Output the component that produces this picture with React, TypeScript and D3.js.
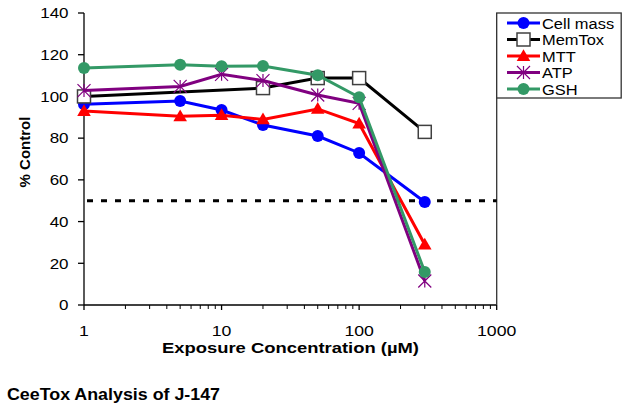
import React from "react";
import * as d3 from "d3";

const seriesNames = ["Cell mass", "MemTox", "MTT", "ATP", "GSH"];
const colors = ["#0000ff", "#000000", "#ff0000", "#800080", "#339966"];
const markers = ["circle", "square", "triangle", "star", "circle"];

const cellMassX = [1, 5, 10, 20, 50, 100, 300];
const cellMassY = [96.3, 97.8, 93.5, 86.3, 81, 72.9, 49.4];
const memToxX = [1, 20, 50, 100, 300];
const memToxY = [100, 104, 108.8, 108.8, 83];
const mttX = [1, 5, 10, 20, 50, 100, 300];
const mttY = [93, 90.5, 91, 89, 94, 87, 29];
const atpX = [1, 5, 10, 20, 50, 100, 300];
const atpY = [102.8, 104.8, 110.6, 107.6, 100.7, 96.7, 11.5];
const gshX = [1, 5, 10, 20, 50, 100, 300];
const gshY = [113.6, 115.2, 114.5, 114.6, 110.2, 99.6, 15.8];

const yTicks = [0, 20, 40, 60, 80, 100, 120, 140];
const xMajor = [1, 10, 100, 1000];
const threshold = 50;

const xs = [cellMassX, memToxX, mttX, atpX, gshX];
const ysv = [cellMassY, memToxY, mttY, atpY, gshY];

function Marker({ type, color, x, y }: { type: string; color: string; x: number; y: number }) {
  if (type === "circle") return <circle cx={x} cy={y} r={6} fill={color} />;
  if (type === "square")
    return <rect x={x - 6.5} y={y - 6.5} width={13} height={13} fill="#fff" stroke="#404040" strokeWidth={1.5} />;
  if (type === "triangle")
    return <path d={d3.symbol().type(d3.symbolTriangle).size(80)() || ""} transform={`translate(${x},${y + 1})`} fill={color} />;
  const p = d3.path();
  const r = 6.5;
  p.moveTo(x - r, y - r); p.lineTo(x + r, y + r);
  p.moveTo(x - r, y + r); p.lineTo(x + r, y - r);
  p.moveTo(x, y - r); p.lineTo(x, y + r);
  return <path d={p.toString()} stroke={color} strokeWidth={1.2} fill="none" />;
}

export default function App() {
  const x = d3.scaleLog().domain([1, 1000]).range([84, 496.7]);
  const y = d3.scaleLinear().domain([0, 140]).range([305, 13]);
  const line = d3.line<[number, number]>().x((d) => x(d[0])).y((d) => y(d[1]));
  const minor: number[] = [];
  for (const dec of [1, 10, 100]) for (let k = 2; k <= 9; k++) minor.push(dec * k);
  const font = "Liberation Sans, Arial, sans-serif";
  const sx = 1.17;

  return (
    <svg width={629} height={411} style={{ position: "absolute", left: 0, top: 0, background: "#fff" }} fontFamily={font}>
      {/* axes */}
      <line x1={84} x2={84} y1={y(140)} y2={y(0)} stroke="#000" strokeWidth={1.3} />
      <line x1={84} x2={496.7} y1={y(0)} y2={y(0)} stroke="#000" strokeWidth={1.3} />
      <line x1={496.7} x2={496.7} y1={y(140)} y2={y(0)} stroke="#333" strokeWidth={1.3} />
      {yTicks.map((t) => (
        <g key={t}>
          <line x1={78} x2={84} y1={y(t)} y2={y(t)} stroke="#000" strokeWidth={1.3} />
          <text transform={`translate(68.5,${y(t)}) scale(${sx},1)`} dy="0.36em" textAnchor="end" fontSize={14.5}>{t}</text>
        </g>
      ))}
      {xMajor.map((t) => (
        <g key={t}>
          <line x1={x(t)} x2={x(t)} y1={y(0)} y2={y(0) + 5} stroke="#000" strokeWidth={1.3} />
          <text transform={`translate(${x(t)},336) scale(${sx + 0.05},1)`} textAnchor="middle" fontSize={14.5}>{t}</text>
        </g>
      ))}
      {minor.map((t) => (
        <line key={t} x1={x(t)} x2={x(t)} y1={y(0)} y2={y(0) + 4} stroke="#000" strokeWidth={1} />
      ))}
      <text x={162} y={353} fontSize={15} fontWeight="bold" textLength={257} lengthAdjust="spacingAndGlyphs">Exposure Concentration (µM)</text>
      <text transform={`translate(30,152) rotate(-90)`} textAnchor="middle" fontSize={15} fontWeight="bold">% Control</text>
      <text x={7} y={400} fontSize={16} fontWeight="bold" textLength={213} lengthAdjust="spacingAndGlyphs">CeeTox Analysis of J-147</text>

      {/* threshold */}
      <line x1={84} x2={496.7} y1={y(threshold)} y2={y(threshold)} stroke="#000" strokeWidth={3} strokeDasharray="6,8" strokeDashoffset={-3} />

      {/* series */}
      {seriesNames.map((name, i) => {
        const pts = xs[i].map((xv, j) => [xv, ysv[i][j]] as [number, number]);
        return (
          <g key={name}>
            <path d={line(pts) || ""} fill="none" stroke={colors[i]} strokeWidth={3} />
            {pts.map((p, j) => (
              <Marker key={j} type={markers[i]} color={colors[i]} x={x(p[0])} y={y(p[1])} />
            ))}
          </g>
        );
      })}

      {/* legend */}
      <rect x={496.7} y={13} width={124.5} height={85} fill="#fff" stroke="#333" strokeWidth={1.3} />
      {seriesNames.map((name, i) => {
        const ly = 23 + i * 16.5;
        return (
          <g key={name}>
            <line x1={507} x2={540} y1={ly} y2={ly} stroke={colors[i]} strokeWidth={3} />
            <Marker type={markers[i]} color={colors[i]} x={523.5} y={ly} />
            <text transform={`translate(542,${ly}) scale(1.06,1)`} dy="0.36em" fontSize={15.5}>{name}</text>
          </g>
        );
      })}
    </svg>
  );
}
